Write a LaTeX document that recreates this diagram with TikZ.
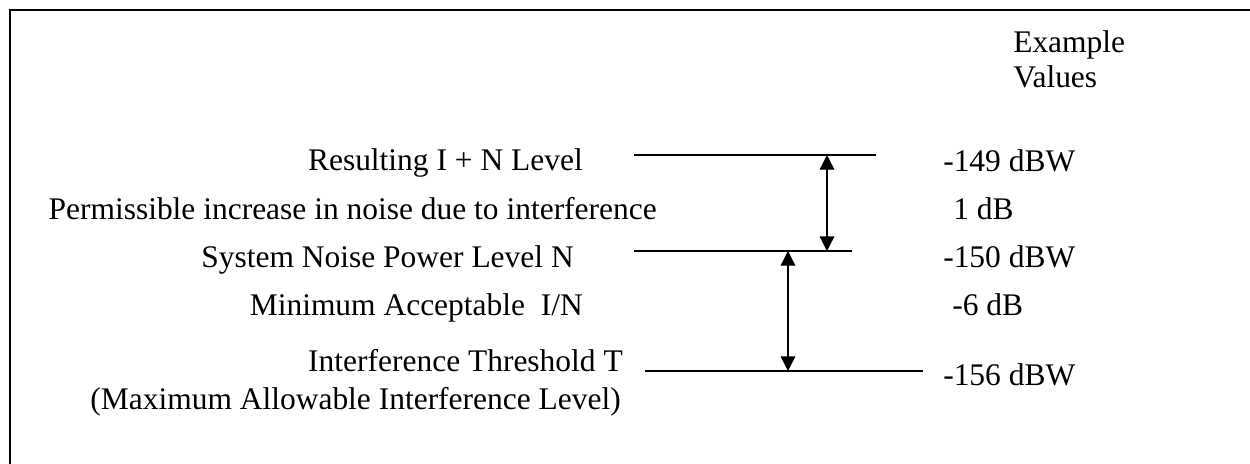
\documentclass[tikz,border=0pt]{standalone}
\usepackage{fontspec}
\setmainfont{Liberation Serif}
\usetikzlibrary{arrows.meta}
\begin{document}
\begin{tikzpicture}[x=0.75pt,y=-0.75pt,
  txt/.style={inner sep=0pt,font=\fontsize{23.6}{27}\selectfont},
  lbl/.style={txt,anchor=base east},
  val/.style={txt,anchor=base west},
  level/.style={line width=1pt},
  dim/.style={line width=1pt,{Triangle[length=11pt,width=11pt]}-{Triangle[length=11pt,width=11pt]}},
  frame/.style={line width=1.5pt}]
\useasboundingbox (0,0) rectangle (1250,464);
% frame (top and left)
\coordinate (ftr) at (1250,10);
\coordinate (ftl) at (9.5,10);
\coordinate (fbl) at (9.5,464);
\draw[frame] (ftr) -- (ftl) -- (fbl);
% level lines
\coordinate (l1a) at (634,155); \coordinate (l1b) at (876,155);
\coordinate (l2a) at (634,251); \coordinate (l2b) at (852,251);
\coordinate (l3a) at (645,371); \coordinate (l3b) at (923,371);
\draw[level] (l1a) -- (l1b);
\draw[level] (l2a) -- (l2b);
\draw[level] (l3a) -- (l3b);
% dimension arrows
\coordinate (a1t) at (827,155); \coordinate (a1b) at (827,251);
\coordinate (a2t) at (788,251); \coordinate (a2b) at (788,371);
\draw[dim] (a1t) -- (a1b);
\draw[dim] (a2t) -- (a2b);
% left labels
\node[lbl] (t1) at (583,170) {Resulting I + N Level};
\node[lbl] (t2) at (657,219) {Permissible increase in noise due to interference};
\node[lbl] (t3) at (574,267) {System Noise Power Level N};
\node[lbl] (t4) at (583,315) {Minimum Acceptable\ \ I/N};
\node[lbl] (t5) at (623,371) {Interference Threshold T};
\node[lbl] (t6) at (621,409) {(Maximum Allowable Interference Level)};
% right values
\node[val] (h1) at (1013,52) {Example};
\node[val] (h2) at (1013,87) {Values};
\node[val] (v1) at (943,171) {-149 dBW};
\node[val] (v2) at (953,219) {1 dB};
\node[val] (v3) at (943,267) {-150 dBW};
\node[val] (v4) at (952,315) {-6 dB};
\node[val] (v5) at (943,385) {-156 dBW};
\end{tikzpicture}
\end{document}
